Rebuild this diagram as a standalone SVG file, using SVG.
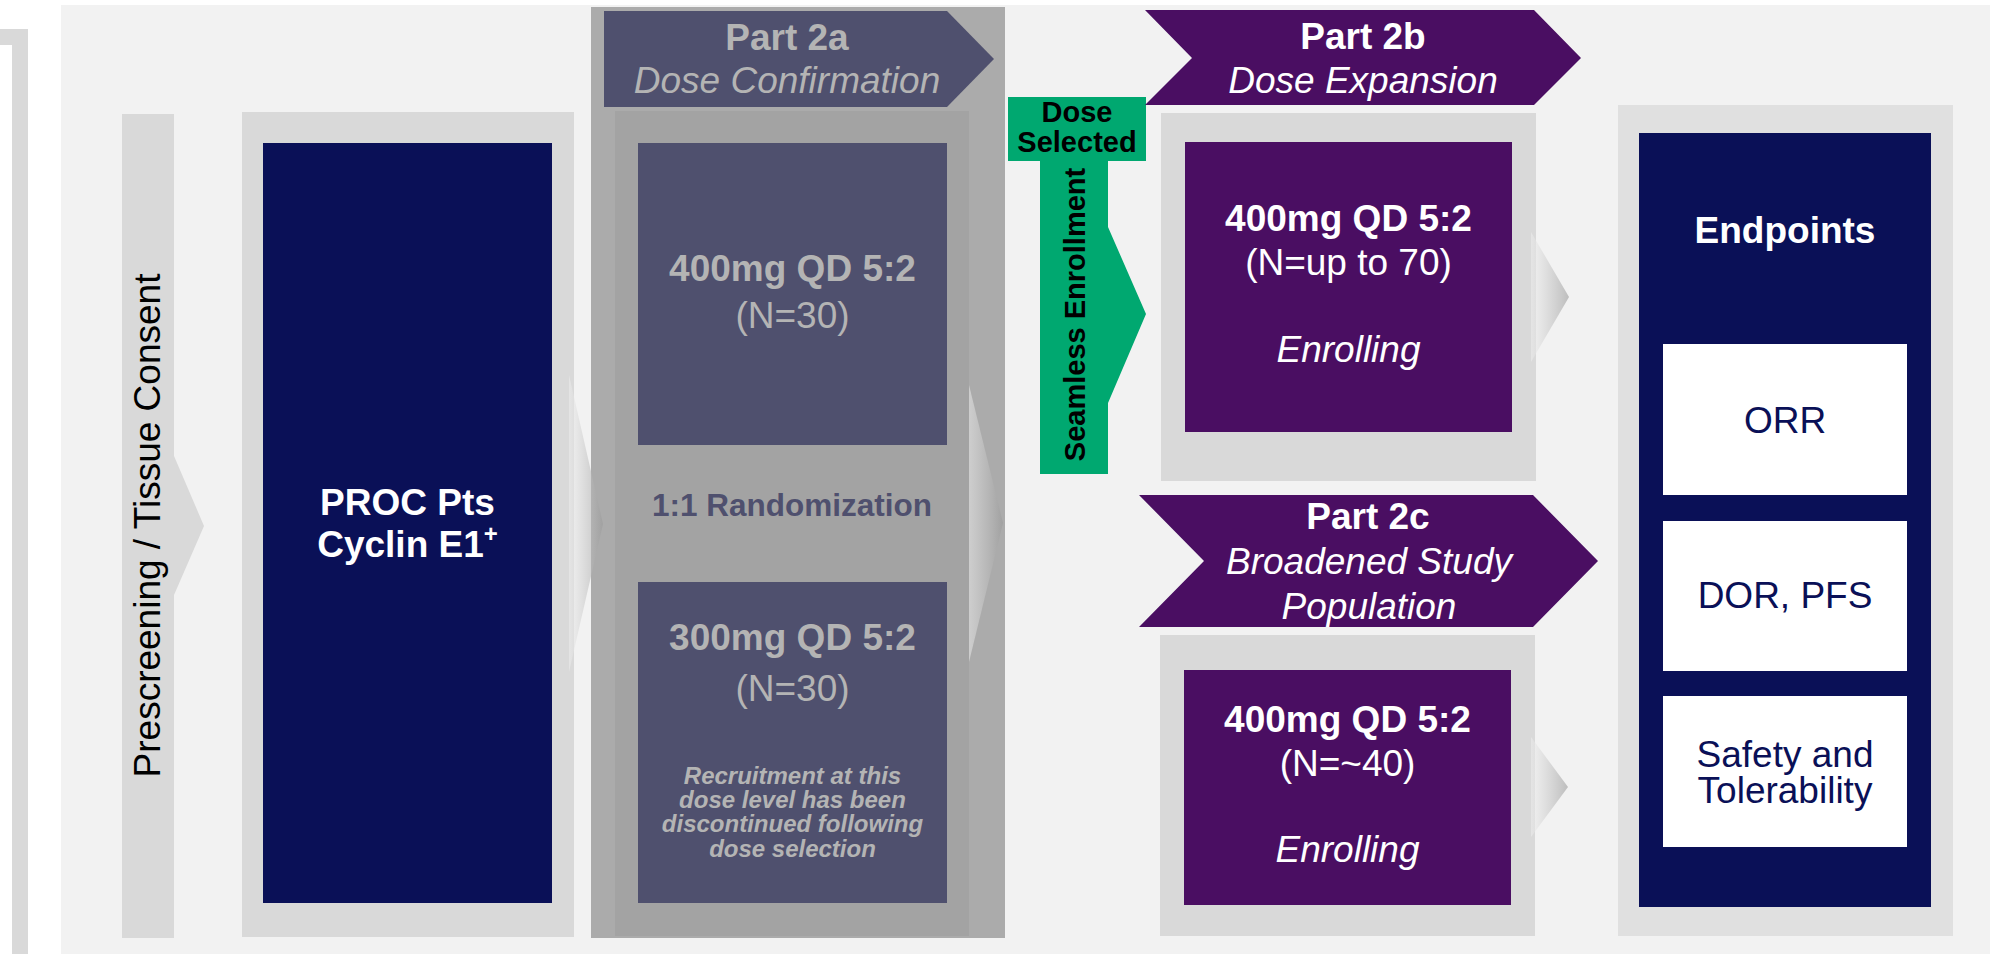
<svg xmlns="http://www.w3.org/2000/svg" width="1990" height="954" viewBox="0 0 1990 954">
<defs>
<style>
text{font-family:"Liberation Sans",Arial,sans-serif;text-anchor:middle}
.b{font-weight:bold}
.i{font-style:italic}
.f37{font-size:37px}
.lg{fill:#d9d9d9}
.navy{fill:#0a1057}
.slate{fill:#4f506e}
.purple{fill:#4a0e62}
.green{fill:#00a870}
.wt{fill:#ffffff}
.gt{fill:#b4b4b4}
.nt{fill:#0a1057}
.conn{fill:url(#cg)}
</style>
<linearGradient id="cg" x1="0" y1="0" x2="1" y2="0">
<stop offset="0" stop-color="#f0f0f0" stop-opacity="0.5"/>
<stop offset="1" stop-color="#9a9a9a" stop-opacity="0.6"/>
</linearGradient>
</defs>

<path d="M20,954 V37 H-10" fill="none" stroke="#d9d9d9" stroke-width="16"/>
<rect x="61" y="5" width="1929" height="949" fill="#f2f2f2"/>

<g id="prescreening">
<polygon class="lg" points="122,114 174,114 174,456 204,526 174,595 174,938 122,938"/>
<text class="f37" transform="translate(160,525.5) rotate(-90)" fill="#000">Prescreening / Tissue Consent</text>
</g>

<g id="proc-pts">
<rect class="lg" x="242" y="112" width="332" height="825"/>
<rect class="navy" x="263" y="143" width="289" height="760"/>
<text class="b f37 wt" x="407.5" y="515">PROC Pts</text>
<text class="b f37 wt" x="407.5" y="557">Cyclin E1<tspan font-size="24" dy="-15">+</tspan></text>
</g>

<g id="part-2a">
<rect x="591" y="7" width="414" height="931" fill="#ababab"/>
<rect x="615" y="111" width="354" height="825" fill="#a3a3a3"/>
<polygon class="slate" points="604,11 947,11 994,59 947,107 604,107"/>
<text class="b f37 gt" x="787" y="50">Part 2a</text>
<text class="i f37 gt" x="787" y="93">Dose Confirmation</text>
<text class="b slate" x="792" y="516" font-size="31.5">1:1 Randomization</text>
</g>

<g id="dose-400-2a">
<rect class="slate" x="638" y="143" width="309" height="302"/>
<text class="b f37 gt" x="792.5" y="281">400mg QD 5:2</text>
<text class="f37 gt" x="792.5" y="328">(N=30)</text>
</g>

<g id="dose-300-2a">
<rect class="slate" x="638" y="582" width="309" height="321"/>
<text class="b f37 gt" x="792.5" y="650">300mg QD 5:2</text>
<text class="f37 gt" x="792.5" y="701">(N=30)</text>
<text class="b i gt" x="792.5" font-size="24"><tspan x="792.5" y="784">Recruitment at this</tspan><tspan x="792.5" y="808">dose level has been</tspan><tspan x="792.5" y="832">discontinued following</tspan><tspan x="792.5" y="857">dose selection</tspan></text>
</g>

<g id="dose-selected">
<rect class="green" x="1008" y="97" width="138" height="64"/>
<polygon class="green" points="1040,161 1108,161 1108,227 1146,314 1108,403 1108,474 1040,474"/>
<text class="b" font-size="29" fill="#000"><tspan x="1077" y="122">Dose</tspan><tspan x="1077" y="152">Selected</tspan></text>
<text class="b" transform="translate(1085,314.5) rotate(-90)" font-size="29" fill="#000">Seamless Enrollment</text>
</g>

<g id="part-2b">
<polygon class="purple" points="1145,10 1534,10 1581,58 1534,105 1145,105 1192,58"/>
<text class="b f37 wt" x="1363" y="49">Part 2b</text>
<text class="i f37 wt" x="1363" y="93">Dose Expansion</text>
<rect class="lg" x="1161" y="113" width="375" height="368"/>
<rect class="purple" x="1185" y="142" width="327" height="290"/>
<text class="b f37 wt" x="1348.5" y="231">400mg QD 5:2</text>
<text class="f37 wt" x="1348.5" y="275">(N=up to 70)</text>
<text class="i f37 wt" x="1348.5" y="362">Enrolling</text>
</g>

<g id="part-2c">
<polygon class="purple" points="1139,495 1533,495 1598,561 1533,627 1139,627 1204,561"/>
<text class="b f37 wt" x="1368" y="529">Part 2c</text>
<text class="i f37 wt"><tspan x="1369" y="574">Broadened Study</tspan><tspan x="1369" y="619">Population</tspan></text>
<rect class="lg" x="1160" y="635" width="375" height="301"/>
<rect class="purple" x="1184" y="670" width="327" height="235"/>
<text class="b f37 wt" x="1347.5" y="732">400mg QD 5:2</text>
<text class="f37 wt" x="1347.5" y="776">(N=~40)</text>
<text class="i f37 wt" x="1347.5" y="862">Enrolling</text>
</g>

<g id="endpoints">
<rect x="1618" y="105" width="335" height="831" fill="#e0e0e0"/>
<rect class="navy" x="1639" y="133" width="292" height="774"/>
<text class="b f37 wt" x="1785" y="243">Endpoints</text>
<rect class="wt" x="1663" y="344" width="244" height="151"/>
<text class="f37 nt" x="1785" y="433">ORR</text>
<rect class="wt" x="1663" y="521" width="244" height="150"/>
<text class="f37 nt" x="1785" y="608">DOR, PFS</text>
<rect class="wt" x="1663" y="696" width="244" height="151"/>
<text class="f37 nt"><tspan x="1785" y="767">Safety and</tspan><tspan x="1785" y="803">Tolerability</tspan></text>
</g>

<g id="connectors">
<polygon class="conn" points="569,375 603,524 569,672"/>
<polygon class="conn" points="969,385 1003,523 969,662"/>
<polygon class="conn" points="1531,232 1569,297 1531,362"/>
<polygon class="conn" points="1531,737 1568,787 1531,837"/>
</g>
</svg>
